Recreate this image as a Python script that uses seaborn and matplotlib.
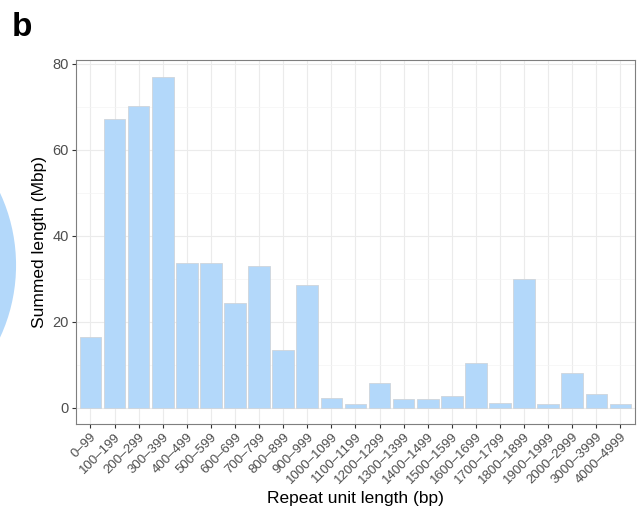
import matplotlib
matplotlib.use("Agg")
import matplotlib.pyplot as plt
from matplotlib.patches import Ellipse
from matplotlib.ticker import MultipleLocator
import pandas as pd
import seaborn as sns

# repeat unit length bins and summed length (Mbp)
bins = ["0–99", "100–199", "200–299", "300–399", "400–499", "500–599",
        "600–699", "700–799", "800–899", "900–999", "1000–1099", "1100–1199",
        "1200–1299", "1300–1399", "1400–1499", "1500–1599", "1600–1699",
        "1700–1799", "1800–1899", "1900–1999", "2000–2999", "3000–3999",
        "4000–4999"]
summed_mbp = [16.5, 67.2, 70.2, 77.0, 33.7, 33.7, 24.4, 33.0, 13.3, 28.6,
              2.1, 0.8, 5.7, 1.9, 1.9, 2.6, 10.4, 1.1, 29.9, 0.9, 8.1, 3.1, 0.9]

df = pd.DataFrame({"bin": bins, "mbp": summed_mbp})

sns.set_theme(style="white")
plt.rcParams["font.family"] = ["Liberation Sans", "DejaVu Sans"]

fig = plt.figure(figsize=(6.42, 5.14), dpi=100)
ax = fig.add_axes([0.1184, 0.175, 0.8706, 0.708])

sns.barplot(data=df, x="bin", y="mbp", color="#b3d8fa", saturation=1,
            width=0.9, edgecolor="#cfd5db", linewidth=0.6, ax=ax, zorder=3)

ax.set_ylim(-3.85, 80.85)
ax.set_xlim(-0.6, len(bins) - 0.4)
ax.yaxis.set_major_locator(MultipleLocator(20))
ax.yaxis.set_minor_locator(MultipleLocator(10))
ax.grid(True, which="major", color="#ebebeb", linewidth=0.8, zorder=0)
ax.grid(True, which="minor", axis="y", color="#f4f4f4", linewidth=0.5, zorder=0)
ax.set_axisbelow(True)
for s in ax.spines.values():
    s.set_color("#7f7f7f")
    s.set_linewidth(0.8)

ax.tick_params(axis="both", which="major", length=3, width=0.8, color="#333333",
               labelsize=9.5, labelcolor="#4d4d4d", pad=2, bottom=True, left=True)
ax.tick_params(axis="y", labelsize=10.5)
ax.tick_params(axis="y", which="minor", length=0)
plt.setp(ax.get_xticklabels(), rotation=45, ha="right", rotation_mode="anchor")

ax.set_xlabel("Repeat unit length (bp)", fontsize=12.5, color="black", labelpad=3)
ax.set_ylabel("Summed length (Mbp)", fontsize=12.5, color="black", labelpad=4)

fig.text(0.018, 0.93, "b", fontsize=24, fontweight="bold", color="black")

# edge of the neighbouring panel's circle
fig.patches.append(Ellipse((-0.22, 0.484), 0.49, 0.64, transform=fig.transFigure,
                           facecolor="#b3d8fa", edgecolor="none", figure=fig))

fig.savefig("out.png", dpi=100)
